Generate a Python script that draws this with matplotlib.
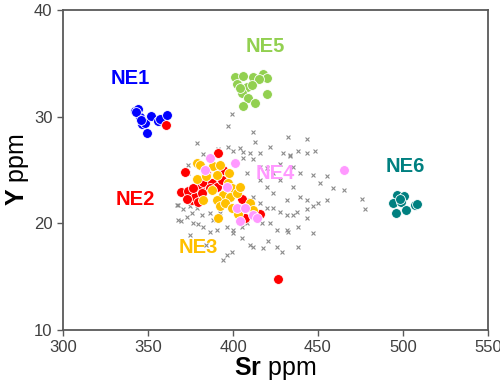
import matplotlib.pyplot as plt

plt.rcParams['font.family'] = ['Liberation Sans', 'DejaVu Sans']
plt.rcParams['mathtext.fontset'] = 'custom'
plt.rcParams['mathtext.rm'] = 'Liberation Sans'
plt.rcParams['mathtext.bf'] = 'Liberation Sans:bold'

# background samples (grey crosses)
bg_sr = [399.2, 397.2, 411.9, 378.6, 397.2, 404.1, 412.9, 421.8, 432.6, 443.8,
         438.5, 443.4, 448.3, 433.5, 429.2, 410.0, 415.9, 406.0, 419.8, 427.7,
         435.5, 439.4, 447.3, 455.1, 451.2, 459.1, 465.0, 475.8, 477.7, 450.2,
         443.4, 437.5, 435.5, 443.4, 438.5, 431.6, 432.6, 447.3, 438.5, 425.7,
         420.8, 417.8, 428.6, 410.0, 405.1, 399.8, 396.2, 394.3, 399.2, 384.4,
         386.4, 379.5, 374.6, 367.8, 369.7, 372.7, 375.6, 367.8, 370.7, 374.6,
         378.6, 381.5, 386.4, 388.4, 392.3, 396.2, 404.1, 408.0, 415.9, 419.8,
         423.7, 427.7, 431.6, 413.9, 416.8, 421.8, 425.7, 373.6, 373.6, 400.2,
         406.0, 391.3, 382.5, 366.8, 411.9, 405.1, 408.0, 411.9, 419.8, 423.7,
         431.6, 439.4, 435.5, 427.7, 423.7, 415.9, 411.9, 408.0, 443.4, 447.3,
         455.1, 433.5, 415.9, 390.3, 400.2, 382.5, 376.6]
bg_y = [30.3, 29.1, 28.6, 27.5, 27.2, 27.1, 27.6, 27.2, 28.1, 27.9,
        26.8, 26.6, 26.8, 26.4, 26.6, 26.6, 26.6, 26.1, 25.2, 25.6,
        25.3, 24.7, 24.5, 24.4, 23.8, 23.3, 23.1, 22.3, 21.3, 21.9,
        21.3, 21.1, 20.8, 20.5, 19.7, 19.4, 19.2, 19.1, 17.8, 17.8,
        18.3, 17.7, 17.3, 18.0, 18.6, 19.4, 17.0, 16.6, 17.3, 18.0,
        19.2, 19.9, 18.9, 20.3, 20.2, 20.6, 21.0, 21.7, 21.3, 21.6,
        21.4, 20.8, 21.0, 20.3, 21.0, 19.7, 20.8, 20.0, 21.9, 21.4,
        21.4, 21.1, 20.8, 20.3, 20.0, 20.0, 19.4, 25.5, 24.7, 26.8,
        26.7, 27.0, 26.5, 21.7, 17.8, 19.7, 22.2, 22.5, 23.4, 22.8,
        22.2, 22.5, 23.4, 24.1, 24.7, 25.3, 26.0, 24.7, 22.2, 21.6,
        22.2, 26.3, 24.1, 19.4, 19.1, 19.7, 20.0]

ne1_sr = [342.2, 344.2, 345.2, 346.7, 348.1, 349.5, 351.5, 356.0, 357.0, 360.9, 342.8, 345.8]
ne1_y = [30.5, 30.7, 30.0, 29.3, 29.4, 28.5, 30.1, 29.6, 29.8, 30.2, 30.4, 29.7]

ne2_sr = [360.5, 391.3, 371.7, 394.3, 369.7, 373.6, 375.6, 377.6, 379.5, 372.7,
          380.5, 382.5, 384.4, 387.4, 390.3, 393.3, 386.4, 405.1, 415.9, 407.0,
          426.7, 381.5, 376.6]
ne2_y = [29.2, 26.6, 24.8, 25.0, 22.9, 23.0, 22.2, 22.5, 22.0, 22.3,
         23.4, 23.9, 24.7, 23.75, 23.4, 24.1, 23.3, 22.3, 20.9, 20.5,
         14.75, 22.8, 23.3]

ne3_sr = [378.6, 380.5, 388.0, 392.3, 397.8, 378.9, 384.4, 390.3, 397.2, 399.2,
          394.3, 398.2, 402.1, 404.1, 390.3, 392.3, 395.2, 399.2, 403.1, 410.0,
          411.9, 391.3, 387.4, 382.5]
ne3_y = [25.7, 25.5, 25.4, 25.5, 24.75, 24.2, 24.4, 24.5, 23.75, 23.3,
         22.65, 22.5, 22.8, 23.4, 22.2, 21.6, 21.9, 21.4, 20.9, 21.9,
         21.25, 20.5, 23.1, 22.2]

ne4_sr = [386.4, 401.1, 465.0, 402.1, 407.0, 404.1, 411.9, 413.9, 383.5, 396.2]
ne4_y = [26.1, 25.7, 25.0, 21.4, 21.4, 20.25, 20.8, 20.5, 25.0, 23.4]

ne5_sr = [401.1, 406.0, 411.9, 417.8, 420.2, 415.5, 402.1, 408.0, 411.0, 405.1,
          409.0, 412.9, 405.7, 419.8, 404.1]
ne5_y = [33.75, 33.8, 33.75, 34.0, 33.6, 33.5, 33.1, 32.75, 33.0, 32.2,
         31.75, 31.25, 31.0, 32.1, 32.65]

ne6_sr = [496.4, 500.3, 494.0, 498.7, 496.0, 501.9, 507.2, 508.2, 498.0]
ne6_y = [22.65, 22.55, 21.9, 22.0, 21.0, 21.25, 21.7, 21.8, 22.3]

groups = [
    ('NE1', ne1_sr, ne1_y, '#0000FF', (339.3, 33.6)),
    ('NE5', ne5_sr, ne5_y, '#92D050', (418.8, 36.6)),
    ('NE6', ne6_sr, ne6_y, '#008080', (501.3, 25.3)),
    ('NE2', ne2_sr, ne2_y, '#FF0000', (342.8, 22.2)),
    ('NE3', ne3_sr, ne3_y, '#FFC000', (379.5, 17.75)),
    ('NE4', ne4_sr, ne4_y, '#FF99FF', (424.7, 24.7)),
]

fig = plt.figure(figsize=(5, 3.9), dpi=100)
ax = fig.add_axes([0.126, 0.154, 0.85, 0.82])

ax.scatter(bg_sr, bg_y, marker='x', s=8, color='#8c8c8c', linewidths=0.8, zorder=2)

for name, xs, ys, col, pos in groups:
    ax.scatter(xs, ys, s=50, color=col, edgecolors='white', linewidths=0.6, zorder=3)
    ax.text(pos[0], pos[1], name, color=col, fontsize=14.5, fontweight='bold',
            ha='center', va='center', zorder=4)

ax.set_xlim(300, 550)
ax.set_ylim(10, 40)
ax.set_xticks([300, 350, 400, 450, 500, 550])
ax.set_yticks([10, 20, 30, 40])
ax.tick_params(direction='out', length=4, width=1, color='#595959',
               labelsize=12, labelcolor='#404040')
for sp in ax.spines.values():
    sp.set_color('#595959')
    sp.set_linewidth(1.3)

ax.set_xlabel(r'$\mathbf{Sr}$ ppm', fontsize=18, labelpad=0)
ax.set_ylabel(r'$\mathbf{Y}$ ppm', fontsize=18, labelpad=2)

fig.savefig('out.png', dpi=100)
